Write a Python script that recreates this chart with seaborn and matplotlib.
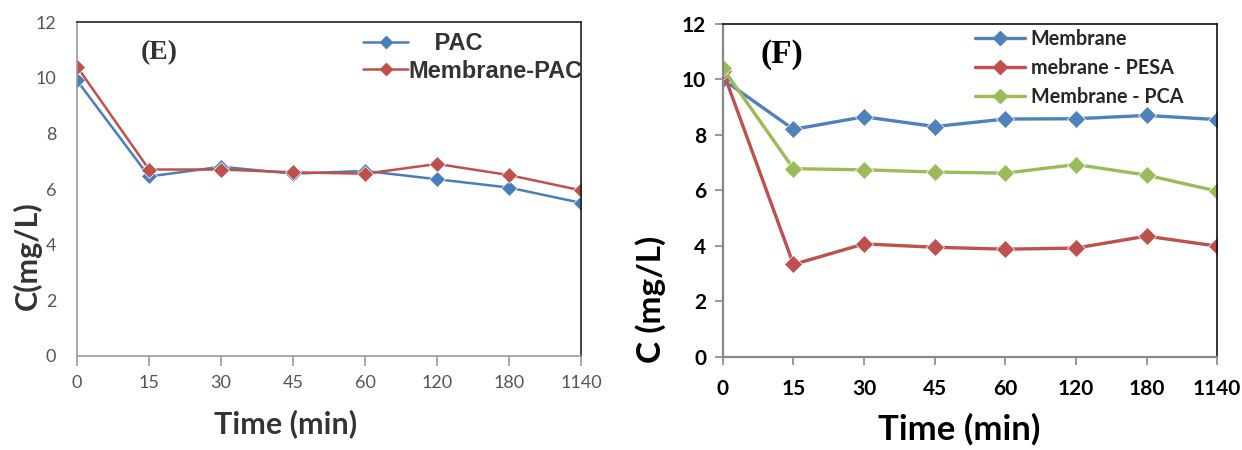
import numpy as np
import pandas as pd
import matplotlib
matplotlib.use("Agg")
import matplotlib.pyplot as plt
import seaborn as sns

# Sampling times (min) shown as evenly spaced categories
times = ["0", "15", "30", "45", "60", "120", "180", "1140"]

# Panel E: concentration (mg/L)
pac = [9.9, 6.45, 6.8, 6.55, 6.65, 6.35, 6.05, 5.5]
membrane_pac = [10.4, 6.7, 6.7, 6.6, 6.55, 6.9, 6.5, 5.95]

# Panel F: concentration (mg/L)
membrane = [10.0, 8.2, 8.65, 8.3, 8.57, 8.58, 8.7, 8.55]
membrane_pesa = [10.3, 3.33, 4.07, 3.95, 3.88, 3.92, 4.35, 3.99]
membrane_pca = [10.4, 6.78, 6.74, 6.66, 6.62, 6.93, 6.55, 5.97]

y_ticks = [0, 2, 4, 6, 8, 10, 12]

BLUE = "#4F81BD"
RED = "#C0504D"
GREEN = "#9BBB59"

sns.set_theme(style="white")
plt.rcParams["font.family"] = ["Lato", "DejaVu Sans"]


def long_frame(series):
    rows = []
    for name, vals in series.items():
        for i, (t, v) in enumerate(zip(times, vals)):
            rows.append({"pos": i, "time": t, "C": v, "series": name})
    return pd.DataFrame(rows)


fig = plt.figure(figsize=(12.42, 4.5), dpi=100)
axE = fig.add_axes([0.062, 0.209, 0.406, 0.742])
axF = fig.add_axes([0.582, 0.207, 0.398, 0.740])

# ---------------- Panel E ----------------
dfE = long_frame({"PAC": pac, "Membrane-PAC": membrane_pac})
sns.lineplot(data=dfE, x="pos", y="C", hue="series", style="series",
             markers={"PAC": "D", "Membrane-PAC": "D"}, dashes=False,
             palette={"PAC": "#4A7EBB", "Membrane-PAC": RED},
             markersize=8, linewidth=1.8, markeredgewidth=0.5,
             ax=axE, legend=False)
axE.set_xlim(0, 7)
axE.set_ylim(0, 12)
axE.set_xticks(range(len(times)))
axE.set_xticklabels(times)
axE.set_yticks(y_ticks)
axE.tick_params(axis="x", bottom=True, direction="out", length=7, width=1.2,
                color="#999999", labelsize=13, labelcolor="#555555", pad=7)
axE.tick_params(axis="y", left=True, length=0, labelsize=13,
                labelcolor="#555555", pad=15)
for side in ["left", "bottom"]:
    axE.spines[side].set_color("#999999")
    axE.spines[side].set_linewidth(1.2)
for side in ["top", "right"]:
    axE.spines[side].set_color("#222222")
    axE.spines[side].set_linewidth(1.2)
axE.set_xlabel("Time (min)", fontsize=22, fontweight="bold", color="#333333")
axE.xaxis.set_label_coords(0.413, -0.16)
axE.set_ylabel("C(mg/L)", fontsize=22, fontweight="bold", color="#333333")
axE.yaxis.set_label_coords(-0.07, 0.30)
axE.text(0.88, 10.9, "(E)", fontsize=20, fontweight="bold",
         family="Liberation Serif", color="#333333", va="center")
hE = [plt.Line2D([], [], color="#4A7EBB", marker="D", markersize=6, lw=1.8),
      plt.Line2D([], [], color=RED, marker="D", markersize=6, lw=1.8)]
legE = axE.legend(hE, ["    PAC", "Membrane-PAC"], loc="upper right",
                  bbox_to_anchor=(1.035, 1.02), frameon=False, handlelength=1.9,
                  handletextpad=0.0, labelspacing=0.2, borderaxespad=0.3,
                  prop={"family": "Liberation Sans", "weight": "bold", "size": 17})
for t in legE.get_texts():
    t.set_color("#333333")

# ---------------- Panel F ----------------
dfF = long_frame({"Membrane": membrane, "mebrane - PESA": membrane_pesa,
                  "Membrane - PCA": membrane_pca})
palF = {"Membrane": BLUE, "mebrane - PESA": RED, "Membrane - PCA": GREEN}
sns.lineplot(data=dfF, x="pos", y="C", hue="series", style="series",
             markers={k: "D" for k in palF}, dashes=False, palette=palF,
             markersize=9.5, linewidth=2.4, markeredgewidth=0.5,
             ax=axF, legend=False)
axF.set_xlim(0, 7)
axF.set_ylim(0, 12)
axF.set_xticks(range(len(times)))
axF.set_xticklabels(times)
axF.set_yticks(y_ticks)
axF.tick_params(axis="both", bottom=True, left=True, direction="out", length=6,
                width=1.2, color="#888888", labelsize=15, labelcolor="black")
axF.tick_params(axis="x", pad=10)
axF.tick_params(axis="y", pad=6)
for lab in axF.get_xticklabels() + axF.get_yticklabels():
    lab.set_fontweight("bold")
for side in ["left", "bottom"]:
    axF.spines[side].set_color("#888888")
    axF.spines[side].set_linewidth(1.6)
for side in ["top", "right"]:
    axF.spines[side].set_color("#111111")
    axF.spines[side].set_linewidth(1.2)
axF.set_xlabel("Time (min)", fontsize=25, fontweight="bold", color="black")
axF.xaxis.set_label_coords(0.479, -0.17)
axF.set_ylabel("C (mg/L)", fontsize=24, fontweight="bold", color="black")
axF.yaxis.set_label_coords(-0.115, 0.174)
axF.text(0.53, 10.9, "(F)", fontsize=24, fontweight="bold",
         family="Liberation Serif", color="black", va="center")
hF = [plt.Line2D([], [], color=c, marker="D", markersize=7.5, lw=2.4)
      for c in palF.values()]
legF = axF.legend(hF, list(palF.keys()), loc="upper right",
                  bbox_to_anchor=(0.959, 1.025), frameon=False, handlelength=2.5,
                  handletextpad=0.3, labelspacing=0.45, borderaxespad=0.3,
                  prop={"family": "Lato", "weight": "bold", "size": 14.2})

fig.savefig("out.png", dpi=100, facecolor="white")
